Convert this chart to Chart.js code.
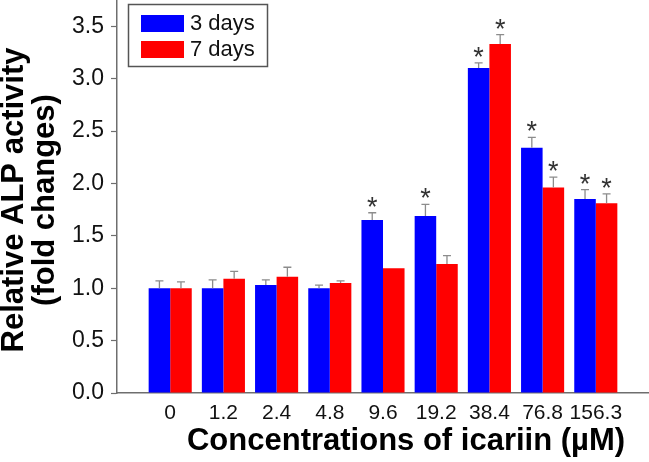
<!DOCTYPE html>
<html>
<head>
<meta charset="utf-8">
<script src="https://cdn.jsdelivr.net/npm/chart.js@4.4.1/dist/chart.umd.min.js"></script>
<style>
  html, body { margin: 0; padding: 0; background: #fff; }
  #wrap { width: 649px; height: 462px; }
</style>
</head>
<body>
<div id="wrap"><canvas id="alpChart" width="649" height="462"></canvas></div>
<script>
// Relative ALP activity vs icariin concentration

const concentrations = ['0', '1.2', '2.4', '4.8', '9.6', '19.2', '38.4', '76.8', '156.3'];
const day3Values = [1.00, 1.00, 1.03, 1.00, 1.65, 1.69, 3.10, 2.34, 1.85];
const day3Errors = [0.07, 0.08, 0.05, 0.03, 0.07, 0.11, 0.05, 0.10, 0.09];
const day3Signif = [false, false, false, false, true, true, true, true, true];
const day7Values = [1.00, 1.09, 1.11, 1.05, 1.19, 1.23, 3.33, 1.96, 1.81];
const day7Errors = [0.06, 0.07, 0.09, 0.02, 0.00, 0.08, 0.09, 0.10, 0.09];
const day7Signif = [false, false, false, false, false, false, true, true, true];
const yTicks = [0, 0.5, 1.0, 1.5, 2.0, 2.5, 3.0, 3.5];

const FONT = '"Liberation Sans", Arial, Helvetica, sans-serif';
const AXIS_GREY = '#6e6e6e';

// empty slot on each side so the category grid matches the original spacing
const labels = [''].concat(concentrations, ['']);
const pad = arr => [null].concat(arr, [null]);

const errorInfo = [
    { errors: pad(day3Errors), signif: pad(day3Signif) },
    { errors: pad(day7Errors), signif: pad(day7Signif) }
];

// error bars (upper half only) and significance stars
const errorBarPlugin = {
    id: 'errorBars',
    afterDatasetsDraw(chart) {
        const ctx = chart.ctx;
        const yScale = chart.scales.y;
        ctx.save();
        chart.data.datasets.forEach((ds, di) => {
            const meta = chart.getDatasetMeta(di);
            const info = errorInfo[di];
            meta.data.forEach((bar, i) => {
                const v = ds.data[i];
                if (v === null || v === undefined) return;
                const err = info.errors[i] || 0;
                const top = yScale.getPixelForValue(v + err);
                if (err > 0) {
                    ctx.strokeStyle = '#8c8c8c';
                    ctx.lineWidth = 1.3;
                    ctx.beginPath();
                    ctx.moveTo(bar.x, bar.y);
                    ctx.lineTo(bar.x, top);
                    ctx.moveTo(bar.x - 4, top);
                    ctx.lineTo(bar.x + 4, top);
                    ctx.stroke();
                }
                if (info.signif[i]) {
                    ctx.fillStyle = '#333';
                    ctx.font = '27px ' + FONT;
                    ctx.textAlign = 'center';
                    ctx.textBaseline = 'alphabetic';
                    const m = ctx.measureText('*');
                    const mid = (m.actualBoundingBoxAscent - m.actualBoundingBoxDescent) / 2;
                    ctx.fillText('*', bar.x, top - 11 + mid);
                }
            });
        });
        ctx.restore();
    }
};

// boxed legend and axis titles
const decorPlugin = {
    id: 'decor',
    afterDraw(chart) {
        const ctx = chart.ctx;
        ctx.save();

        // legend box
        ctx.strokeStyle = '#555';
        ctx.lineWidth = 1.5;
        ctx.strokeRect(128.5, 4.5, 139, 62);
        chart.data.datasets.forEach((ds, i) => {
            const y = 15 + i * 26;
            ctx.fillStyle = ds.backgroundColor;
            ctx.fillRect(141, y, 43, 17);
            ctx.fillStyle = '#111';
            ctx.font = '22px ' + FONT;
            ctx.textAlign = 'left';
            ctx.textBaseline = 'middle';
            ctx.fillText(ds.label, 190, y + 9);
        });

        // x title
        ctx.fillStyle = '#000';
        ctx.font = 'bold 31px ' + FONT;
        ctx.textAlign = 'center';
        ctx.textBaseline = 'middle';
        ctx.fillText('Concentrations of icariin (µM)', 406, 441);

        // y title (two lines, rotated)
        ctx.translate(0, 200);
        ctx.rotate(-Math.PI / 2);
        ctx.font = 'bold 31px ' + FONT;
        ctx.fillText('Relative ALP activity', 0, 14);
        ctx.fillText('(fold changes)', 0, 45);
        ctx.restore();
    }
};

const config = {
    type: 'bar',
    data: {
        labels: labels,
        datasets: [
            {
                label: '3 days',
                data: pad(day3Values),
                backgroundColor: '#0000ff',
                borderWidth: 0
            },
            {
                label: '7 days',
                data: pad(day7Values),
                backgroundColor: '#ff0000',
                borderWidth: 0
            }
        ]
    },
    options: {
        responsive: false,
        animation: false,
        devicePixelRatio: 1,
        layout: { padding: 0 },
        categoryPercentage: 0.81,
        barPercentage: 1.0,
        plugins: {
            legend: { display: false },
            tooltip: { enabled: false }
        },
        scales: {
            x: {
                type: 'category',
                offset: false,
                grid: { display: false, drawTicks: false },
                border: { display: true, color: AXIS_GREY, width: 1.5 },
                ticks: {
                    autoSkip: false,
                    maxRotation: 0,
                    padding: 8,
                    color: '#111',
                    font: { family: FONT, size: 21 }
                },
                afterFit(scale) {
                    scale.height = 69;
                    scale.paddingLeft = 0;
                    scale.paddingRight = 0;
                }
            },
            y: {
                min: 0,
                max: 3.75,
                grid: {
                    drawOnChartArea: false,
                    drawTicks: true,
                    tickLength: 6,
                    color: AXIS_GREY,
                    tickWidth: 1.2
                },
                border: { display: true, color: AXIS_GREY, width: 1.5 },
                ticks: {
                    stepSize: 0.25,
                    padding: 7,
                    color: '#111',
                    font: { family: FONT, size: 23 },
                    callback: (value) => yTicks.includes(value) ? value.toFixed(1) : ''
                },
                afterFit(scale) {
                    scale.width = 117;
                    scale.paddingTop = 0;
                    scale.paddingBottom = 0;
                }
            }
        }
    },
    plugins: [errorBarPlugin, decorPlugin]
};

new Chart(document.getElementById('alpChart'), config);
</script>
</body>
</html>
